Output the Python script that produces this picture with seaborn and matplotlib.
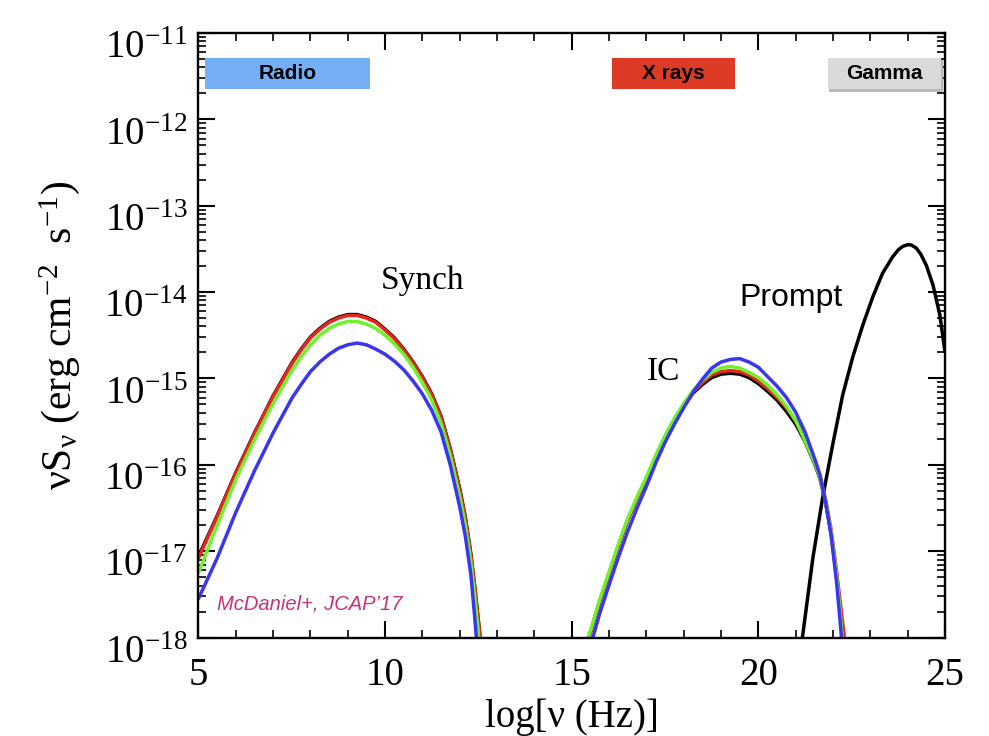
import numpy as np
import pandas as pd
import matplotlib
matplotlib.use("Agg")
import matplotlib.pyplot as plt
import matplotlib.transforms as mtransforms
from matplotlib.ticker import MultipleLocator, FixedLocator, FuncFormatter, LogLocator, NullFormatter
from matplotlib.patches import Rectangle
import seaborn as sns

# ---- spectral energy distribution (log10 of nu S_nu in erg cm^-2 s^-1) ----
synch_lognu = [5.0, 5.5, 6.0, 6.5, 7.0, 7.5, 7.75, 8.0, 8.25, 8.5, 8.75, 9.0, 9.25, 9.5, 9.75,
               10.0, 10.25, 10.5, 10.75, 11.0, 11.25, 11.5, 11.75, 12.0, 12.15, 12.3, 12.4,
               12.5, 12.6, 12.7]
synch_black = [-17.06, -16.59, -16.09, -15.63, -15.20, -14.82, -14.66, -14.52, -14.42, -14.34,
               -14.29, -14.26, -14.26, -14.29, -14.34, -14.43, -14.53, -14.66, -14.81, -14.98,
               -15.18, -15.44, -15.82, -16.28, -16.61, -17.04, -17.41, -17.81, -18.21, -18.61]
synch_red = [-17.08, -16.60, -16.10, -15.64, -15.21, -14.83, -14.67, -14.53, -14.43, -14.35,
             -14.30, -14.27, -14.27, -14.30, -14.35, -14.44, -14.54, -14.67, -14.82, -14.99,
             -15.19, -15.45, -15.83, -16.29, -16.62, -17.05, -17.42, -17.82, -18.22, -18.62]
synch_green = [-17.25, -16.70, -16.17, -15.71, -15.29, -14.91, -14.75, -14.61, -14.50, -14.42,
               -14.37, -14.34, -14.34, -14.37, -14.42, -14.50, -14.60, -14.72, -14.87, -15.05,
               -15.25, -15.52, -15.90, -16.37, -16.70, -17.13, -17.52, -17.95, -18.40, -18.85]
synch_blue = [-17.55, -17.08, -16.55, -16.07, -15.63, -15.23, -15.07, -14.92, -14.81, -14.72,
              -14.65, -14.61, -14.59, -14.61, -14.66, -14.72, -14.80, -14.90, -15.03, -15.18,
              -15.37, -15.62, -16.01, -16.49, -16.83, -17.28, -17.76, -18.30, -18.80, -19.30]

ic_lognu = [15.35, 15.5, 15.75, 16.0, 16.25, 16.5, 16.75, 17.0, 17.25, 17.5, 17.75, 18.0,
            18.25, 18.5, 18.75, 19.0, 19.25, 19.5, 19.75, 20.0, 20.25, 20.5, 20.75, 21.0,
            21.25, 21.5, 21.65, 21.8, 21.95, 22.1, 22.2, 22.3, 22.4]
ic_black = [-18.15, -17.94, -17.58, -17.26, -16.94, -16.64, -16.39, -16.16, -15.91, -15.69,
            -15.49, -15.32, -15.17, -15.07, -14.99, -14.95, -14.94, -14.95, -14.99, -15.06,
            -15.15, -15.25, -15.38, -15.53, -15.73, -15.98, -16.16, -16.43, -16.80, -17.30,
            -17.72, -18.20, -18.70]
ic_red = [-18.15, -17.94, -17.58, -17.26, -16.94, -16.64, -16.39, -16.16, -15.91, -15.69,
          -15.49, -15.32, -15.16, -15.05, -14.96, -14.92, -14.91, -14.92, -14.96, -15.03,
          -15.12, -15.22, -15.34, -15.49, -15.69, -15.93, -16.12, -16.40, -16.75, -17.25,
          -17.62, -17.98, -18.50]
ic_green = [-18.13, -17.92, -17.56, -17.24, -16.92, -16.62, -16.37, -16.14, -15.89, -15.66,
            -15.46, -15.29, -15.14, -15.02, -14.93, -14.88, -14.86, -14.88, -14.93, -14.99,
            -15.08, -15.19, -15.32, -15.49, -15.72, -15.97, -16.15, -16.42, -16.78, -17.30,
            -17.75, -18.30, -18.80]
ic_blue = [-18.32, -18.10, -17.72, -17.39, -17.07, -16.77, -16.50, -16.25, -15.98, -15.74,
           -15.53, -15.34, -15.16, -15.01, -14.88, -14.81, -14.78, -14.77, -14.81, -14.87,
           -14.98, -15.09, -15.22, -15.39, -15.62, -15.92, -16.12, -16.43, -16.82, -17.38,
           -17.86, -18.40, -18.90]

prompt_lognu = [21.05, 21.18, 21.46, 21.73, 21.99, 22.26, 22.53, 22.8, 23.07, 23.33, 23.6,
                23.75, 23.87, 24.01, 24.1, 24.23, 24.35, 24.5, 24.68, 24.86, 25.0]
prompt_black = [-18.40, -18.00, -17.08, -16.36, -15.77, -15.19, -14.75, -14.38, -14.05, -13.78,
                -13.59, -13.51, -13.47, -13.45, -13.455, -13.49, -13.56, -13.69, -13.92, -14.26,
                -14.69]

model_colors = {"black": "#000000", "red": "#E8261E", "green": "#6EF22A", "blue": "#3A35F0"}

bands = ["Radio", "X rays", "Gamma"]
band_colors = ["#74AEF5", "#DC3A25", "#D9D9D9"]
band_x0 = [0.0087, 0.5535, 0.8427]
band_x1 = [0.2296, 0.7182, 0.9953]

x_ticks = [5, 10, 15, 20, 25]
y_exponents = [-18, -17, -16, -15, -14, -13, -12, -11]

# ---- assemble long-form table ----
frames = []
for comp, xs, series in [
    ("Prompt", prompt_lognu, {"black": prompt_black}),
    ("Synch", synch_lognu, {"black": synch_black, "red": synch_red,
                            "green": synch_green, "blue": synch_blue}),
    ("IC", ic_lognu, {"black": ic_black, "red": ic_red,
                      "green": ic_green, "blue": ic_blue}),
]:
    for model, vals in series.items():
        frames.append(pd.DataFrame({"component": comp, "model": model,
                                    "lognu": xs, "nuSnu": np.power(10.0, vals)}))
sed = pd.concat(frames, ignore_index=True)

# ---- styling ----
sns.set_style("white")
plt.rcParams["font.family"] = ["Liberation Serif", "DejaVu Serif"]
plt.rcParams["mathtext.fontset"] = "stix"
for key in ["text.color", "axes.labelcolor", "xtick.color", "ytick.color", "axes.edgecolor"]:
    plt.rcParams[key] = "black"

fig = plt.figure(figsize=(9.89, 7.36), dpi=100)
ax = fig.add_axes([0.2007, 0.1338, 0.7548, 0.8213])
ax.set_yscale("log")

for comp in ["Prompt", "Synch", "IC"]:
    for model in ["black", "red", "green", "blue"]:
        sub = sed[(sed.component == comp) & (sed.model == model)]
        if sub.empty:
            continue
        sns.lineplot(data=sub, x="lognu", y="nuSnu", color=model_colors[model],
                     lw=2.5, sort=False, estimator=None, ax=ax, legend=False)

ax.set_xlim(5, 25)
ax.set_ylim(1e-18, 1e-11)

# ticks
ax.xaxis.set_major_locator(FixedLocator(x_ticks))
ax.xaxis.set_minor_locator(MultipleLocator(1))
ax.yaxis.set_major_locator(FixedLocator([10.0 ** e for e in y_exponents]))
ax.yaxis.set_minor_locator(LogLocator(base=10, subs=np.arange(2, 10), numticks=20))
ax.yaxis.set_minor_formatter(NullFormatter())
ax.yaxis.set_major_formatter(FuncFormatter(
    lambda v, p: r"$\mathregular{10^{%d}}$" % int(round(np.log10(v)))))
ax.xaxis.set_major_formatter(FuncFormatter(lambda v, p: "%d" % v))

ax.tick_params(which="both", direction="in", left=True, bottom=True, top=True, right=True,
               colors="black")
ax.tick_params(which="major", length=12, width=1.5, labelsize=28)
ax.tick_params(which="minor", length=6, width=1.2)
ax.tick_params(axis="x", which="major", pad=14)
ax.tick_params(axis="y", which="major", pad=8)
for s in ax.spines.values():
    s.set_linewidth(1.7)
    s.set_color("black")

# y tick labels sit slightly below their ticks
shift = mtransforms.ScaledTranslation(0, -8 / 72, fig.dpi_scale_trans)
for lbl in ax.get_yticklabels():
    lbl.set_transform(lbl.get_transform() + shift)

ax.set_xlabel(r"log[ν (Hz)]", fontsize=28, labelpad=3)
ax.set_ylabel(r"$\mathregular{νS_ν\ (erg\ cm^{-2}\ \ s^{-1})}$", fontsize=30, labelpad=16)

# component labels
ax.text(11.01, 10 ** -13.87, "Synch", fontsize=24, ha="center", va="center")
ax.text(17.46, 10 ** -14.92, "IC", fontsize=24, ha="center", va="center")
ax.text(20.87, 10 ** -14.07, "Prompt", fontsize=23, ha="center", va="center",
        family=["Liberation Sans", "DejaVu Sans"])
ax.text(0.025, 0.055, "McDaniel+, JCAP’17", transform=ax.transAxes, fontsize=14.5,
        style="italic", color="#C8327A", ha="left", va="center",
        family=["Liberation Sans", "DejaVu Sans"])

# energy band markers
for name, col, x0, x1 in zip(bands, band_colors, band_x0, band_x1):
    if name == "Gamma":
        ax.add_patch(Rectangle((x0 + 0.002, 0.903), x1 - x0, 0.052, transform=ax.transAxes,
                               facecolor="#B8B8B8", edgecolor="none", zorder=4, clip_on=False))
    ax.add_patch(Rectangle((x0, 0.907), x1 - x0, 0.052, transform=ax.transAxes,
                           facecolor=col, edgecolor="none", zorder=5, clip_on=False))
    ax.text((x0 + x1) / 2, 0.933, name, transform=ax.transAxes, fontsize=15,
            fontweight="bold", ha="center", va="center", zorder=6,
            family=["Liberation Sans Narrow", "Liberation Sans", "DejaVu Sans"])

fig.savefig("out.png", dpi=100)
